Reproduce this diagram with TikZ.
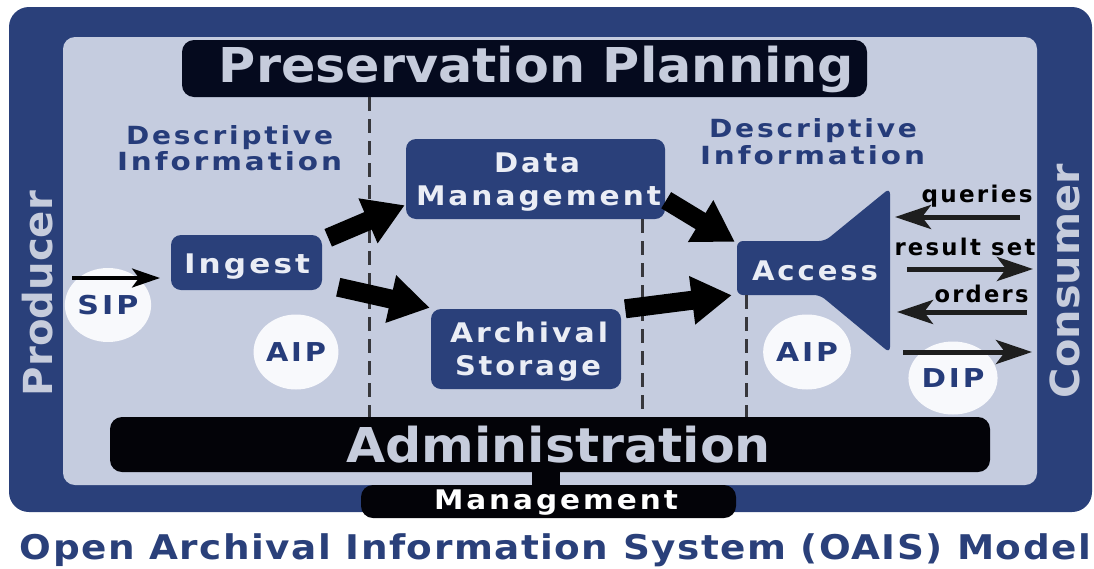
\documentclass[tikz,border=0pt]{standalone}
\usepackage{fontspec}
\usepackage{graphicx}
\setmainfont{DejaVu Sans}
\newfontfamily\spc{DejaVu Sans}[LetterSpace=10]
\newfontfamily\spt{DejaVu Sans}[LetterSpace=4]
\usetikzlibrary{arrows.meta,shapes.geometric}
\definecolor{oblue}{RGB}{42,64,122}
\definecolor{light}{RGB}{197,204,223}
\definecolor{pblack}{RGB}{5,10,30}
\definecolor{ablack}{RGB}{3,3,8}
\definecolor{btxt}{RGB}{234,237,245}
\definecolor{gtxt}{RGB}{198,204,220}
\definecolor{dtxt}{RGB}{38,60,122}
\definecolor{dashgray}{RGB}{55,55,60}
\definecolor{flowgray}{RGB}{30,30,30}
\definecolor{circfill}{RGB}{248,249,252}
\newcommand\fitt[3]{\resizebox{#1pt}{\height}{\fontsize{#2pt}{#2pt}\selectfont\bfseries #3}}
\begin{document}
\begin{tikzpicture}[x=1pt,y=-1pt,
  bluebox/.style={fill=oblue, rounded corners=10pt, inner sep=0pt},
  blackbox/.style={fill=ablack, rounded corners=12pt, inner sep=0pt},
  lbl/.style={anchor=base, inner sep=0pt},
  circ/.style={ellipse, fill=circfill, inner sep=0pt, text=dtxt},
  dashline/.style={draw=dashgray, line width=3pt, dash pattern=on 14pt off 8pt},
  blockarrow/.style={draw=black, line width=19pt, -{Triangle[length=40pt,width=46pt]}},
  flow/.style={draw=flowgray, line width=5pt, -{Stealth[length=36pt,width=24pt,inset=9pt]}},
  thinflow/.style={draw=black, line width=3.5pt, -{Stealth[length=28pt,width=19pt,inset=7pt]}}
]
\useasboundingbox (0,0) rectangle (1094,568);
\fill[white] (0,0) rectangle (1094,568);
% frames
\fill[oblue, rounded corners=20pt] (9,7) rectangle (1092,512);
\fill[light, rounded corners=12pt] (63,37) rectangle (1037,485);

% boxes
\node[blackbox, fill=pblack, minimum width=685pt, minimum height=57pt] (pp) at (524.5,68.5) {};
\node[blackbox, minimum width=880pt, minimum height=55pt] (adm) at (550,444.5) {};
\node[blackbox, minimum width=375pt, minimum height=33pt] (mgmt) at (548.5,501.5) {};
\fill[ablack] (532,470) rectangle (560,487);
\node[bluebox, minimum width=259pt, minimum height=80pt] (dm) at (535.5,179) {};
\node[bluebox, minimum width=151pt, minimum height=55pt] (ingest) at (246.5,262.5) {};
\node[bluebox, minimum width=190pt, minimum height=80pt] (as) at (526,349) {};
\fill[oblue, rounded corners=6pt] (737,268) -- (737,241) -- (825,241) -- (890,188) -- (890,353) -- (820,295) -- (737,295) -- cycle;
\node[inner sep=0pt, minimum width=88pt, minimum height=54pt] (access) at (781,268) {};

% dashed lines
\draw[dashline] (pp.south -| 369,0) -- (adm.north -| 369,0);
\draw[dashline] (dm.south -| 642,0) -- (adm.north -| 642,0);
\draw[dashline] (access.south -| 746,0) -- (adm.north -| 746,0);

% texts
\node[lbl, text=gtxt] (pptext) at (536.5,82) {\fitt{635}{48}{Preservation Planning}};
\node[lbl, text=gtxt] (admtext) at (558.5,462) {\fitt{425}{48}{Administration}};
\node[lbl, text=white] (mgmttext) at (556,509) {\fitt{244}{27}{\spc Management}};
\node[lbl, text=btxt] (dmt1) at (537,172) {\fitt{86}{27}{\spc Data}};
\node[lbl, text=btxt] (dmt2) at (538.5,205) {\fitt{245}{27}{\spc Management}};
\node[lbl, text=btxt] (ingt) at (247,273) {\fitt{126}{27}{\spc Ingest}};
\node[lbl, text=btxt] (ast1) at (529,342) {\fitt{158}{27}{\spc Archival}};
\node[lbl, text=btxt] (ast2) at (528,375) {\fitt{146}{27}{\spc Storage}};
\node[lbl, text=btxt] (acct) at (815,280) {\fitt{126}{27}{\spc Access}};

\node[lbl, text=dtxt] (dl1) at (229.5,144) {\fitt{207}{25}{\spc Descriptive}};
\node[lbl, text=dtxt] (dl2) at (229.5,170) {\fitt{225}{25}{\spc Information}};
\node[lbl, text=dtxt] (dr1) at (813,137) {\fitt{208}{25}{\spc Descriptive}};
\node[lbl, text=dtxt] (dr2) at (812.5,164) {\fitt{225}{25}{\spc Information}};

\node[lbl, text=gtxt, rotate=90] (prod) at (52,293.5) {\fitt{205}{40}{Producer}};
\node[lbl, text=gtxt, rotate=90] (cons) at (1079,281) {\fitt{234}{40}{Consumer}};

\node[lbl, text=oblue] (title) at (555.5,559) {\fitt{1071}{34}{\spt Open Archival Information System (OAIS) Model}};

% circles
\node[circ, minimum width=67pt, minimum height=74pt] (sip) at (108,305) {\fitt{61}{26}{\spc SIP}};
\node[circ, minimum width=67pt, minimum height=75pt] (aipl) at (296,352) {\fitt{60}{26}{\spc AIP}};
\node[circ, minimum width=66pt, minimum height=75pt] (aipr) at (807,352) {\fitt{62}{26}{\spc AIP}};
\node[circ, minimum width=69pt, minimum height=73pt] (dip) at (953,378) {\fitt{63}{26}{\spc DIP}};

% block arrows
\draw[blockarrow] ([shift={(6,3)}]ingest.north east) -- ([shift={(-1,-14)}]dm.south west);
\draw[blockarrow] ([shift={(16,-3)}]ingest.south east) -- ([shift={(-1,-1)}]as.north west);
\draw[blockarrow] ([shift={(1,-19)}]dm.south east) -- ([shift={(-2,1)}]access.north west);
\draw[blockarrow] ([shift={(4,0)}]as.north east) -- ([shift={(-5,0)}]access.south west);

% consumer flows
\coordinate (qs) at (1020,217); \coordinate (qe) at (895,217);
\coordinate (rs) at (907,269); \coordinate (re) at (1033,269);
\coordinate (os) at (1027,312); \coordinate (oe) at (897,312);
\coordinate (ds) at (903,352); \coordinate (de) at (1032,352);
\coordinate (ss) at (72,278); \coordinate (se) at (160,278);
\draw[flow] (qs) -- (qe);
\draw[flow] (rs) -- (re);
\draw[flow] (os) -- (oe);
\draw[flow] (ds) -- (de);
\draw[thinflow] (ss) -- (se);
\node[lbl, text=black] (qt) at (977,202) {\fitt{111}{23}{\spc queries}};
\node[lbl, text=black] (rt) at (965,255) {\fitt{141}{23}{\spc result set}};
\node[lbl, text=black] (ot) at (981.5,302) {\fitt{94}{23}{\spc orders}};
\end{tikzpicture}
\end{document}
